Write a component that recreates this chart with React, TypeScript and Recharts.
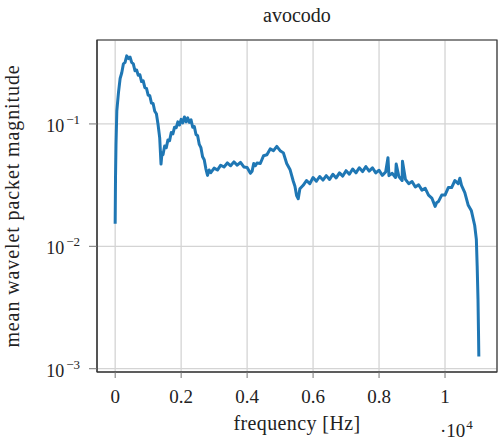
import { CartesianGrid, Label, Line, LineChart, ReferenceArea, XAxis, YAxis } from "recharts";

// values (Hz, mean magnitude)
const freqHz = [
  0, 10, 25, 50, 100, 150, 200, 250, 300, 350, 400, 450, 500, 550, 600, 650, 700, 750, 800, 850,
  900, 950, 1000, 1050, 1100, 1150, 1200, 1250, 1300, 1350, 1390, 1420, 1450, 1500, 1550, 1600, 1650, 1700, 1750, 1800,
  1850, 1900, 1950, 2000, 2050, 2100, 2150, 2200, 2250, 2300, 2350, 2400, 2450, 2500, 2550, 2600, 2650, 2700, 2750, 2800,
  2850, 2900, 3000, 3100, 3200, 3300, 3400, 3500, 3600, 3700, 3800, 3900, 4000, 4100, 4150, 4200, 4250, 4300, 4400, 4500,
  4600, 4700, 4800, 4900, 5000, 5100, 5200, 5300, 5400, 5450, 5500, 5550, 5600, 5650, 5700, 5800, 5900, 6000, 6100, 6200,
  6300, 6400, 6500, 6600, 6700, 6800, 6900, 7000, 7100, 7200, 7300, 7400, 7500, 7600, 7700, 7800, 7900, 8000, 8100, 8200,
  8270, 8300, 8400, 8500, 8520, 8600, 8700, 8710, 8800, 8900, 9000, 9100, 9200, 9300, 9400, 9500, 9600, 9700, 9750, 9800,
  9900, 10000, 10100, 10200, 10300, 10400, 10450, 10500, 10600, 10700, 10800, 10900, 10950, 10975, 11000, 11015, 11025,
];

const magnitude = [
  0.0153, 0.036, 0.068, 0.128, 0.18, 0.235, 0.262, 0.31, 0.318, 0.36, 0.342, 0.352, 0.318, 0.31, 0.272, 0.276, 0.25, 0.252, 0.222, 0.225,
  0.198, 0.195, 0.172, 0.17, 0.148, 0.147, 0.127, 0.121, 0.099, 0.077, 0.047, 0.058, 0.056, 0.066, 0.064, 0.074, 0.073, 0.085, 0.083, 0.094,
  0.093, 0.104, 0.098, 0.109, 0.102, 0.114, 0.104, 0.112, 0.103, 0.108, 0.094, 0.095, 0.082, 0.08, 0.068, 0.064, 0.054, 0.051, 0.043, 0.038,
  0.042, 0.04, 0.0435, 0.042, 0.046, 0.0445, 0.048, 0.0455, 0.049, 0.046, 0.0485, 0.0445, 0.044, 0.0395, 0.041, 0.0475, 0.0455, 0.048, 0.0475, 0.055,
  0.056, 0.0625, 0.0605, 0.0655, 0.0605, 0.058, 0.0475, 0.0425, 0.034, 0.031, 0.026, 0.0245, 0.0295, 0.0305, 0.0315, 0.0345, 0.0325, 0.0365, 0.034, 0.0372,
  0.0348, 0.0378, 0.0352, 0.0388, 0.0362, 0.0398, 0.0375, 0.0415, 0.0388, 0.0428, 0.0398, 0.0438, 0.0408, 0.0448, 0.0412, 0.0438, 0.0398, 0.0418, 0.038, 0.0405,
  0.053, 0.0378, 0.0395, 0.0365, 0.047, 0.0372, 0.0345, 0.0496, 0.0352, 0.0325, 0.0338, 0.0305, 0.0318, 0.0288, 0.0298, 0.0262, 0.0248, 0.0212, 0.0228, 0.0232,
  0.0262, 0.0262, 0.0302, 0.0302, 0.0345, 0.0325, 0.036, 0.0315, 0.0275, 0.0218, 0.0195, 0.0148, 0.0114, 0.0069, 0.0037, 0.002, 0.00126,
];

const xTicks = [0, 2000, 4000, 6000, 8000, 10000];
const xTickLabels = ["0", "0.2", "0.4", "0.6", "0.8", "1"];
const yTicks = [0.001, 0.01, 0.1];
const yTickExponents = ["−3", "−2", "−1"];

const FONT = "'Liberation Serif', 'Times New Roman', serif";

const data = freqHz.map((f, i) => ({ f, m: magnitude[i] }));

function XTick({ x, payload }: any) {
  const idx = xTicks.indexOf(payload.value);
  return (
    <text x={x} y={403} textAnchor="middle" fontFamily={FONT} fontSize={19} fill="#222">
      {xTickLabels[idx]}
    </text>
  );
}

function YTick({ y, payload }: any) {
  const idx = yTicks.indexOf(payload.value);
  return (
    <text x={80} y={y + 8} textAnchor="end" fontFamily={FONT} fontSize={18} fill="#222">
      10
      <tspan dx={2} dy={-8} fontSize={13}>
        {yTickExponents[idx]}
      </tspan>
    </text>
  );
}

export default function App() {
  return (
    <div style={{ position: "absolute", left: 0, top: 0, width: 498, height: 444, background: "#fff" }}>
      <LineChart width={498} height={444} data={data} margin={{ top: 40, right: 1, bottom: 0, left: 0 }}>
        <CartesianGrid stroke="#d4d4d4" strokeWidth={1.3} />
        <XAxis
          dataKey="f"
          type="number"
          domain={[-551, 11576]}
          allowDataOverflow
          ticks={xTicks}
          tick={<XTick />}
          tickSize={6}
          tickLine={{ stroke: "#777" }}
          axisLine={{ stroke: "#333" }}
          height={72}
        >
          <Label
            content={() => (
              <g fontFamily={FONT} fill="#222">
                <text x={297} y={430} textAnchor="middle" fontSize={20} letterSpacing={0.4}>
                  frequency [Hz]
                </text>
                <text x={440} y={437} fontSize={19}>
                  ·10
                  <tspan dx={1} dy={-8} fontSize={13}>
                    4
                  </tspan>
                </text>
              </g>
            )}
          />
        </XAxis>
        <YAxis
          dataKey="m"
          scale="log"
          domain={[0.00094, 0.485]}
          allowDataOverflow
          ticks={yTicks}
          tick={<YTick />}
          tickSize={8}
          tickLine={{ stroke: "#777" }}
          axisLine={{ stroke: "#333" }}
          width={97}
        >
          <Label
            content={() => (
              <g fontFamily={FONT} fill="#222">
                <text
                  x={19}
                  y={206}
                  textAnchor="middle"
                  fontSize={20}
                  letterSpacing={0.9}
                  transform="rotate(-90, 19, 206)"
                >
                  mean wavelet packet magnitude
                </text>
                <text x={297} y={22} textAnchor="middle" fontSize={20}>
                  avocodo
                </text>
              </g>
            )}
          />
        </YAxis>
        <Line
          type="linear"
          dataKey="m"
          stroke="#1f77b4"
          strokeWidth={3}
          strokeLinejoin="round"
          dot={false}
          isAnimationActive={false}
        />
        <ReferenceArea
          x1={-551}
          x2={11576}
          y1={0.00094}
          y2={0.485}
          fill="none"
          stroke="#333"
          strokeWidth={1.2}
          ifOverflow="visible"
        />
      </LineChart>
    </div>
  );
}
